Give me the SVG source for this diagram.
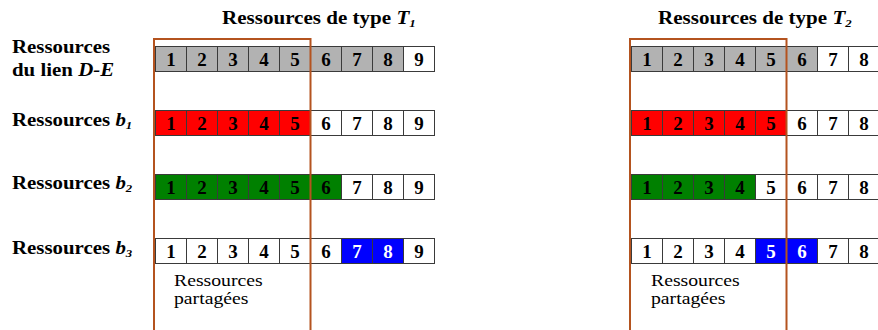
<svg xmlns="http://www.w3.org/2000/svg" width="878" height="330" viewBox="0 0 878 330">
<style>
.c{stroke:#3a3a3a;stroke-width:1}
.w{fill:#ffffff}.g{fill:#b2b2b2}.r{fill:#ff0000}.v{fill:#008000}.b{fill:#0000ff}
.d{font-family:'Liberation Serif',Tinos,'Times New Roman','DejaVu Serif',serif;font-weight:bold;font-size:19px;text-anchor:middle;fill:#000}
.dw{fill:#ffffff}
.lb{font-family:'Liberation Serif',Tinos,'Times New Roman','DejaVu Serif',serif;font-weight:bold;font-size:18px;fill:#000}
.lp{font-family:'Liberation Serif',Tinos,'Times New Roman','DejaVu Serif',serif;font-size:17px;fill:#000}
.it{font-style:italic}
.sub{font-style:italic;font-size:11px}
.box{fill:none;stroke:#b4531f;stroke-width:2}
</style>
<rect width="878" height="330" fill="#ffffff"/>

<g id="titles">
<text class="lb" transform="translate(222,24) scale(1.17,1)">Ressources de type <tspan class="it">T</tspan><tspan class="sub" dy="3">1</tspan></text>
<text class="lb" transform="translate(658,24) scale(1.17,1)">Ressources de type <tspan class="it">T</tspan><tspan class="sub" dy="3">2</tspan></text>
</g>

<g id="labels">
<text class="lb" transform="translate(12,53) scale(1.16,1)">Ressources</text>
<text class="lb" transform="translate(12,76) scale(1.16,1)">du lien <tspan class="it">D-E</tspan></text>
<text class="lb" transform="translate(12,126) scale(1.16,1)">Ressources <tspan class="it">b</tspan><tspan class="sub" dy="3">1</tspan></text>
<text class="lb" transform="translate(12,189) scale(1.16,1)">Ressources <tspan class="it">b</tspan><tspan class="sub" dy="3">2</tspan></text>
<text class="lb" transform="translate(12,254) scale(1.16,1)">Ressources <tspan class="it">b</tspan><tspan class="sub" dy="3">3</tspan></text>
</g>

<!-- Left grid T1 -->
<g id="t1-lien">
<rect class="c g" x="155.5" y="46.5" width="31" height="25"/>
<rect class="c g" x="186.5" y="46.5" width="31" height="25"/>
<rect class="c g" x="217.5" y="46.5" width="31" height="25"/>
<rect class="c g" x="248.5" y="46.5" width="31" height="25"/>
<rect class="c g" x="279.5" y="46.5" width="31" height="25"/>
<rect class="c g" x="310.5" y="46.5" width="31" height="25"/>
<rect class="c g" x="341.5" y="46.5" width="31" height="25"/>
<rect class="c g" x="372.5" y="46.5" width="31" height="25"/>
<rect class="c w" x="403.5" y="46.5" width="31" height="25"/>
<text class="d" x="171" y="66">1</text><text class="d" x="202" y="66">2</text><text class="d" x="233" y="66">3</text><text class="d" x="264" y="66">4</text><text class="d" x="295" y="66">5</text><text class="d" x="326" y="66">6</text><text class="d" x="357" y="66">7</text><text class="d" x="388" y="66">8</text><text class="d" x="419" y="66">9</text>
</g>
<g id="t1-b1">
<rect class="c r" x="155.5" y="110.5" width="31" height="25"/>
<rect class="c r" x="186.5" y="110.5" width="31" height="25"/>
<rect class="c r" x="217.5" y="110.5" width="31" height="25"/>
<rect class="c r" x="248.5" y="110.5" width="31" height="25"/>
<rect class="c r" x="279.5" y="110.5" width="31" height="25"/>
<rect class="c w" x="310.5" y="110.5" width="31" height="25"/>
<rect class="c w" x="341.5" y="110.5" width="31" height="25"/>
<rect class="c w" x="372.5" y="110.5" width="31" height="25"/>
<rect class="c w" x="403.5" y="110.5" width="31" height="25"/>
<text class="d" x="171" y="130">1</text><text class="d" x="202" y="130">2</text><text class="d" x="233" y="130">3</text><text class="d" x="264" y="130">4</text><text class="d" x="295" y="130">5</text><text class="d" x="326" y="130">6</text><text class="d" x="357" y="130">7</text><text class="d" x="388" y="130">8</text><text class="d" x="419" y="130">9</text>
</g>
<g id="t1-b2">
<rect class="c v" x="155.5" y="174.5" width="31" height="25"/>
<rect class="c v" x="186.5" y="174.5" width="31" height="25"/>
<rect class="c v" x="217.5" y="174.5" width="31" height="25"/>
<rect class="c v" x="248.5" y="174.5" width="31" height="25"/>
<rect class="c v" x="279.5" y="174.5" width="31" height="25"/>
<rect class="c v" x="310.5" y="174.5" width="31" height="25"/>
<rect class="c w" x="341.5" y="174.5" width="31" height="25"/>
<rect class="c w" x="372.5" y="174.5" width="31" height="25"/>
<rect class="c w" x="403.5" y="174.5" width="31" height="25"/>
<text class="d" x="171" y="194">1</text><text class="d" x="202" y="194">2</text><text class="d" x="233" y="194">3</text><text class="d" x="264" y="194">4</text><text class="d" x="295" y="194">5</text><text class="d" x="326" y="194">6</text><text class="d" x="357" y="194">7</text><text class="d" x="388" y="194">8</text><text class="d" x="419" y="194">9</text>
</g>
<g id="t1-b3">
<rect class="c w" x="155.5" y="238.5" width="31" height="25"/>
<rect class="c w" x="186.5" y="238.5" width="31" height="25"/>
<rect class="c w" x="217.5" y="238.5" width="31" height="25"/>
<rect class="c w" x="248.5" y="238.5" width="31" height="25"/>
<rect class="c w" x="279.5" y="238.5" width="31" height="25"/>
<rect class="c w" x="310.5" y="238.5" width="31" height="25"/>
<rect class="c b" x="341.5" y="238.5" width="31" height="25"/>
<rect class="c b" x="372.5" y="238.5" width="31" height="25"/>
<rect class="c w" x="403.5" y="238.5" width="31" height="25"/>
<text class="d" x="171" y="258">1</text><text class="d" x="202" y="258">2</text><text class="d" x="233" y="258">3</text><text class="d" x="264" y="258">4</text><text class="d" x="295" y="258">5</text><text class="d" x="326" y="258">6</text><text class="d dw" x="357" y="258">7</text><text class="d dw" x="388" y="258">8</text><text class="d" x="419" y="258">9</text>
</g>

<!-- Right grid T2 -->
<g id="t2-lien">
<rect class="c g" x="631.5" y="46.5" width="31" height="25"/>
<rect class="c g" x="662.5" y="46.5" width="31" height="25"/>
<rect class="c g" x="693.5" y="46.5" width="31" height="25"/>
<rect class="c g" x="724.5" y="46.5" width="31" height="25"/>
<rect class="c g" x="755.5" y="46.5" width="31" height="25"/>
<rect class="c g" x="786.5" y="46.5" width="31" height="25"/>
<rect class="c w" x="817.5" y="46.5" width="31" height="25"/>
<rect class="c w" x="848.5" y="46.5" width="31" height="25"/>
<text class="d" x="647" y="66">1</text><text class="d" x="678" y="66">2</text><text class="d" x="709" y="66">3</text><text class="d" x="740" y="66">4</text><text class="d" x="771" y="66">5</text><text class="d" x="802" y="66">6</text><text class="d" x="833" y="66">7</text><text class="d" x="864" y="66">8</text>
</g>
<g id="t2-b1">
<rect class="c r" x="631.5" y="110.5" width="31" height="25"/>
<rect class="c r" x="662.5" y="110.5" width="31" height="25"/>
<rect class="c r" x="693.5" y="110.5" width="31" height="25"/>
<rect class="c r" x="724.5" y="110.5" width="31" height="25"/>
<rect class="c r" x="755.5" y="110.5" width="31" height="25"/>
<rect class="c w" x="786.5" y="110.5" width="31" height="25"/>
<rect class="c w" x="817.5" y="110.5" width="31" height="25"/>
<rect class="c w" x="848.5" y="110.5" width="31" height="25"/>
<text class="d" x="647" y="130">1</text><text class="d" x="678" y="130">2</text><text class="d" x="709" y="130">3</text><text class="d" x="740" y="130">4</text><text class="d" x="771" y="130">5</text><text class="d" x="802" y="130">6</text><text class="d" x="833" y="130">7</text><text class="d" x="864" y="130">8</text>
</g>
<g id="t2-b2">
<rect class="c v" x="631.5" y="174.5" width="31" height="25"/>
<rect class="c v" x="662.5" y="174.5" width="31" height="25"/>
<rect class="c v" x="693.5" y="174.5" width="31" height="25"/>
<rect class="c v" x="724.5" y="174.5" width="31" height="25"/>
<rect class="c w" x="755.5" y="174.5" width="31" height="25"/>
<rect class="c w" x="786.5" y="174.5" width="31" height="25"/>
<rect class="c w" x="817.5" y="174.5" width="31" height="25"/>
<rect class="c w" x="848.5" y="174.5" width="31" height="25"/>
<text class="d" x="647" y="194">1</text><text class="d" x="678" y="194">2</text><text class="d" x="709" y="194">3</text><text class="d" x="740" y="194">4</text><text class="d" x="771" y="194">5</text><text class="d" x="802" y="194">6</text><text class="d" x="833" y="194">7</text><text class="d" x="864" y="194">8</text>
</g>
<g id="t2-b3">
<rect class="c w" x="631.5" y="238.5" width="31" height="25"/>
<rect class="c w" x="662.5" y="238.5" width="31" height="25"/>
<rect class="c w" x="693.5" y="238.5" width="31" height="25"/>
<rect class="c w" x="724.5" y="238.5" width="31" height="25"/>
<rect class="c b" x="755.5" y="238.5" width="31" height="25"/>
<rect class="c b" x="786.5" y="238.5" width="31" height="25"/>
<rect class="c w" x="817.5" y="238.5" width="31" height="25"/>
<rect class="c w" x="848.5" y="238.5" width="31" height="25"/>
<text class="d" x="647" y="258">1</text><text class="d" x="678" y="258">2</text><text class="d" x="709" y="258">3</text><text class="d" x="740" y="258">4</text><text class="d dw" x="771" y="258">5</text><text class="d dw" x="802" y="258">6</text><text class="d" x="833" y="258">7</text><text class="d" x="864" y="258">8</text>
</g>

<g id="shared-t1">
<rect class="box" x="154" y="39" width="156.5" height="300"/>
<text class="lp" transform="translate(174,286) scale(1.16,1)">Ressources</text>
<text class="lp" transform="translate(174,304) scale(1.16,1)">partagées</text>
</g>
<g id="shared-t2">
<rect class="box" x="630" y="39" width="156.5" height="300"/>
<text class="lp" transform="translate(651,286) scale(1.16,1)">Ressources</text>
<text class="lp" transform="translate(651,304) scale(1.16,1)">partagées</text>
</g>
<g id="connectors"/>
</svg>
